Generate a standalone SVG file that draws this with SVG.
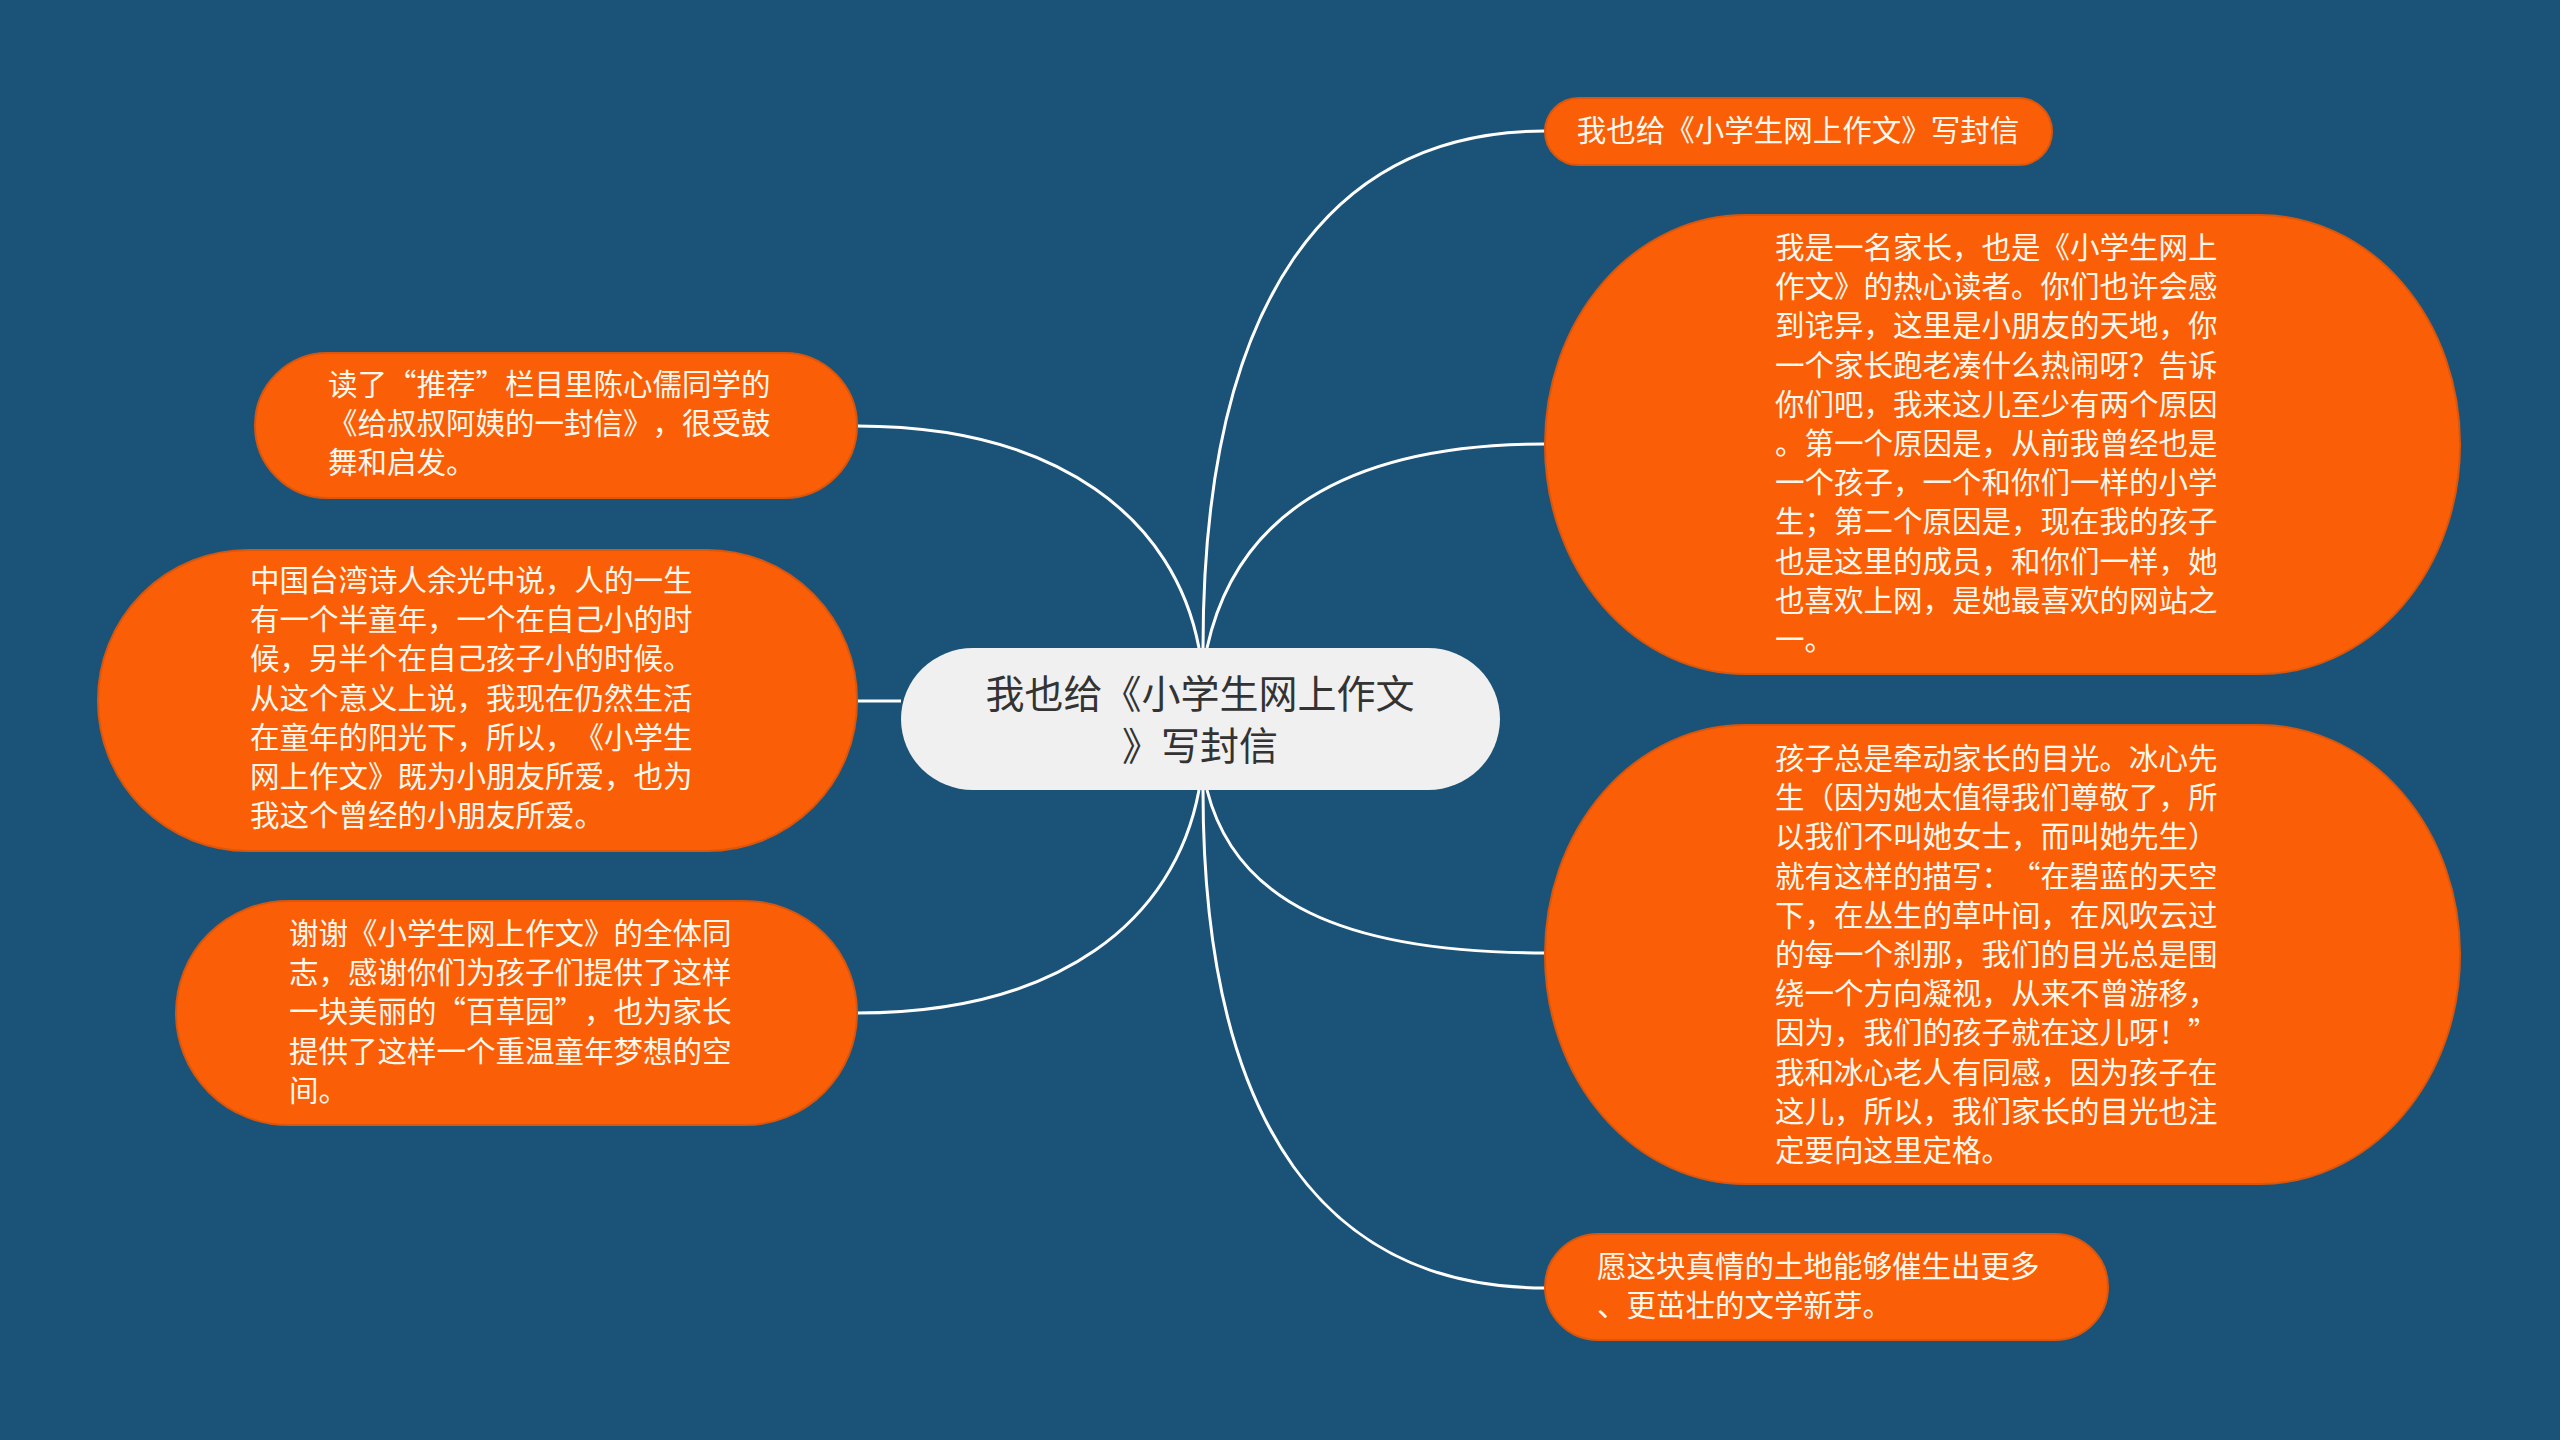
<svg xmlns="http://www.w3.org/2000/svg" width="2560" height="1440" viewBox="0 0 2560 1440">
<style>
.bg{fill:#1b5378}
.leaf{fill:#fa5f07;stroke:#d9560c;stroke-width:2}
.root{fill:#f0f0f0}
.lt{font-family:"Noto Sans CJK SC","Noto Sans",sans-serif;font-size:29.5px;fill:#fff8ee;text-spacing-trim:space-all}
.rt{font-family:"Noto Sans CJK SC","Noto Sans",sans-serif;font-size:39px;fill:#333333;text-spacing-trim:space-all}
.edge{fill:none;stroke:#ffffff;stroke-width:3}
</style>
<rect class="bg" x="0" y="0" width="2560" height="1440"/>
<g id="connectors">
<path class="edge" d="M1203,648 C1203,300 1330,131 1545,131"/>
<path class="edge" d="M1207,648 C1235,520 1340,444 1545,444"/>
<path class="edge" d="M1207,790 C1235,900 1340,953 1545,953"/>
<path class="edge" d="M1203,790 C1203,1130 1330,1288 1545,1288"/>
<path class="edge" d="M1199,648 C1175,520 1060,426 857,426"/>
<path class="edge" d="M901,701 L857,701"/>
<path class="edge" d="M1199,790 C1175,920 1060,1013 857,1013"/>
</g>
<g id="root">
<rect class="root" x="901" y="648" width="599" height="142" rx="72" ry="71"/>
<text class="rt" text-anchor="middle"><tspan x="1200" y="708">我也给《小学生网上作文</tspan><tspan x="1200" y="760">》写封信</tspan></text>
</g>
<g id="node-r1">
<rect class="leaf" x="1545" y="98" width="507" height="67" rx="33.5" ry="33.5"/>
<text class="lt" text-anchor="middle"><tspan x="1798" y="141">我也给《小学生网上作文》写封信</tspan></text>
</g>
<g id="node-r2">
<rect class="leaf" x="1545" y="215" width="915" height="459" rx="200" ry="229"/>
<text class="lt"><tspan x="1775" y="258">我是一名家长，也是《小学生网上</tspan><tspan x="1775" y="297.2">作文》的热心读者。你们也许会感</tspan><tspan x="1775" y="336.4">到诧异，这里是小朋友的天地，你</tspan><tspan x="1775" y="375.6">一个家长跑老凑什么热闹呀？告诉</tspan><tspan x="1775" y="414.8">你们吧，我来这儿至少有两个原因</tspan><tspan x="1775" y="454">。第一个原因是，从前我曾经也是</tspan><tspan x="1775" y="493.2">一个孩子，一个和你们一样的小学</tspan><tspan x="1775" y="532.4">生；第二个原因是，现在我的孩子</tspan><tspan x="1775" y="571.6">也是这里的成员，和你们一样，她</tspan><tspan x="1775" y="610.8">也喜欢上网，是她最喜欢的网站之</tspan><tspan x="1775" y="650">一。</tspan></text>
</g>
<g id="node-r3">
<rect class="leaf" x="1545" y="725" width="915" height="459" rx="200" ry="229"/>
<text class="lt"><tspan x="1775" y="769">孩子总是牵动家长的目光。冰心先</tspan><tspan x="1775" y="808.2">生（因为她太值得我们尊敬了，所</tspan><tspan x="1775" y="847.4">以我们不叫她女士，而叫她先生）</tspan><tspan x="1775" y="886.6">就有这样的描写：“在碧蓝的天空</tspan><tspan x="1775" y="925.8">下，在丛生的草叶间，在风吹云过</tspan><tspan x="1775" y="965">的每一个刹那，我们的目光总是围</tspan><tspan x="1775" y="1004.2">绕一个方向凝视，从来不曾游移，</tspan><tspan x="1775" y="1043.4">因为，我们的孩子就在这儿呀！”</tspan><tspan x="1775" y="1082.6">我和冰心老人有同感，因为孩子在</tspan><tspan x="1775" y="1121.8">这儿，所以，我们家长的目光也注</tspan><tspan x="1775" y="1161">定要向这里定格。</tspan></text>
</g>
<g id="node-r4">
<rect class="leaf" x="1545" y="1234" width="563" height="106" rx="53" ry="53"/>
<text class="lt"><tspan x="1597" y="1277">愿这块真情的土地能够催生出更多</tspan><tspan x="1597" y="1316">、更茁壮的文学新芽。</tspan></text>
</g>
<g id="node-l1">
<rect class="leaf" x="255" y="353" width="602" height="145" rx="72.5" ry="72.5"/>
<text class="lt"><tspan x="328" y="395">读了“推荐”栏目里陈心儒同学的</tspan><tspan x="328" y="434.2">《给叔叔阿姨的一封信》，很受鼓</tspan><tspan x="328" y="473.4">舞和启发。</tspan></text>
</g>
<g id="node-l2">
<rect class="leaf" x="98" y="550" width="759" height="301" rx="150" ry="150"/>
<text class="lt"><tspan x="250" y="591">中国台湾诗人余光中说，人的一生</tspan><tspan x="250" y="630.2">有一个半童年，一个在自己小的时</tspan><tspan x="250" y="669.4">候，另半个在自己孩子小的时候。</tspan><tspan x="250" y="708.6">从这个意义上说，我现在仍然生活</tspan><tspan x="250" y="747.8">在童年的阳光下，所以，《小学生</tspan><tspan x="250" y="787">网上作文》既为小朋友所爱，也为</tspan><tspan x="250" y="826.2">我这个曾经的小朋友所爱。</tspan></text>
</g>
<g id="node-l3">
<rect class="leaf" x="176" y="901" width="681" height="224" rx="112" ry="112"/>
<text class="lt"><tspan x="289" y="944">谢谢《小学生网上作文》的全体同</tspan><tspan x="289" y="983.2">志，感谢你们为孩子们提供了这样</tspan><tspan x="289" y="1022.4">一块美丽的“百草园”，也为家长</tspan><tspan x="289" y="1061.6">提供了这样一个重温童年梦想的空</tspan><tspan x="289" y="1100.8">间。</tspan></text>
</g>
</svg>
